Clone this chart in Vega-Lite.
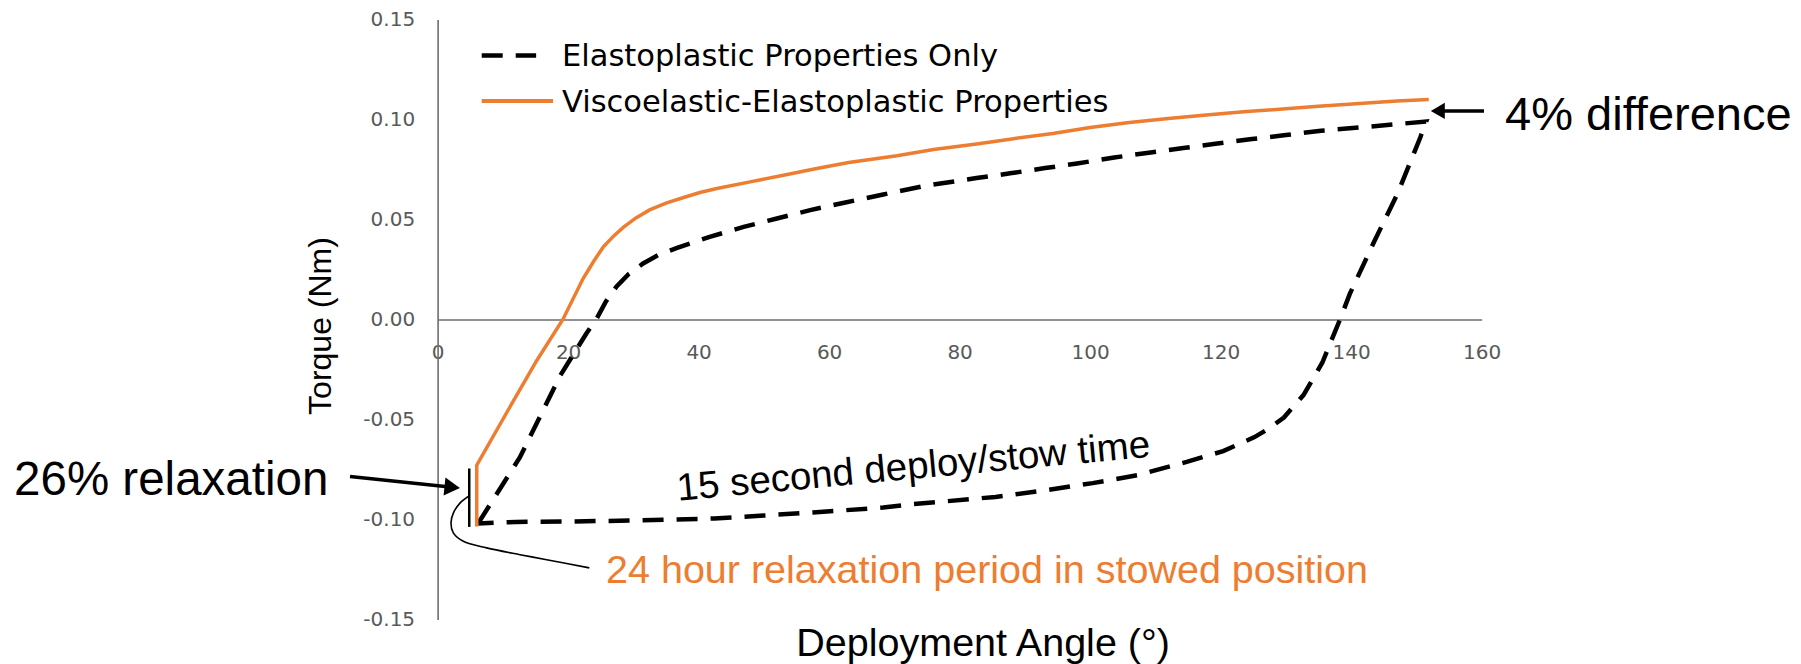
{
  "$schema": "https://vega.github.io/schema/vega-lite/v6.json",
  "width": 1044,
  "height": 600,
  "autosize": {"type": "none"},
  "padding": {"left": 437.6, "top": 19.5, "right": 319.4, "bottom": 44.5},
  "background": "white",
  "config": {"view": {"stroke": null}, "font": "Liberation Sans"},
  "datasets": {
    "curves": [
      {"series": "Elastoplastic Properties Only", "idx": 1, "angle": 6.2, "torque": -0.102},
      {"series": "Elastoplastic Properties Only", "idx": 2, "angle": 12.6, "torque": -0.069},
      {"series": "Elastoplastic Properties Only", "idx": 3, "angle": 18.8, "torque": -0.028},
      {"series": "Elastoplastic Properties Only", "idx": 4, "angle": 22.8, "torque": -0.007},
      {"series": "Elastoplastic Properties Only", "idx": 5, "angle": 24.3, "torque": 0.0},
      {"series": "Elastoplastic Properties Only", "idx": 6, "angle": 25.8, "torque": 0.009},
      {"series": "Elastoplastic Properties Only", "idx": 7, "angle": 27.4, "torque": 0.0164},
      {"series": "Elastoplastic Properties Only", "idx": 8, "angle": 29.3, "torque": 0.0228},
      {"series": "Elastoplastic Properties Only", "idx": 9, "angle": 31.5, "torque": 0.028},
      {"series": "Elastoplastic Properties Only", "idx": 10, "angle": 33.8, "torque": 0.0322},
      {"series": "Elastoplastic Properties Only", "idx": 11, "angle": 36.6, "torque": 0.0357},
      {"series": "Elastoplastic Properties Only", "idx": 12, "angle": 41.7, "torque": 0.0413},
      {"series": "Elastoplastic Properties Only", "idx": 13, "angle": 46.9, "torque": 0.0463},
      {"series": "Elastoplastic Properties Only", "idx": 14, "angle": 52.0, "torque": 0.0505},
      {"series": "Elastoplastic Properties Only", "idx": 15, "angle": 57.1, "torque": 0.0547},
      {"series": "Elastoplastic Properties Only", "idx": 16, "angle": 62.5, "torque": 0.0585},
      {"series": "Elastoplastic Properties Only", "idx": 17, "angle": 68.3, "torque": 0.0625},
      {"series": "Elastoplastic Properties Only", "idx": 18, "angle": 75.0, "torque": 0.067},
      {"series": "Elastoplastic Properties Only", "idx": 19, "angle": 82.6, "torque": 0.0707},
      {"series": "Elastoplastic Properties Only", "idx": 20, "angle": 88.0, "torque": 0.0732},
      {"series": "Elastoplastic Properties Only", "idx": 21, "angle": 93.1, "torque": 0.0757},
      {"series": "Elastoplastic Properties Only", "idx": 22, "angle": 98.0, "torque": 0.078},
      {"series": "Elastoplastic Properties Only", "idx": 23, "angle": 103.7, "torque": 0.081},
      {"series": "Elastoplastic Properties Only", "idx": 24, "angle": 109.0, "torque": 0.0834},
      {"series": "Elastoplastic Properties Only", "idx": 25, "angle": 114.3, "torque": 0.0857},
      {"series": "Elastoplastic Properties Only", "idx": 26, "angle": 119.5, "torque": 0.088},
      {"series": "Elastoplastic Properties Only", "idx": 27, "angle": 124.8, "torque": 0.0902},
      {"series": "Elastoplastic Properties Only", "idx": 28, "angle": 130.0, "torque": 0.0922},
      {"series": "Elastoplastic Properties Only", "idx": 29, "angle": 135.4, "torque": 0.0944},
      {"series": "Elastoplastic Properties Only", "idx": 30, "angle": 141.3, "torque": 0.096},
      {"series": "Elastoplastic Properties Only", "idx": 31, "angle": 147.1, "torque": 0.0977},
      {"series": "Elastoplastic Properties Only", "idx": 32, "angle": 151.5, "torque": 0.099},
      {"series": "Elastoplastic Properties Only", "idx": 33, "angle": 150.6, "torque": 0.091},
      {"series": "Elastoplastic Properties Only", "idx": 34, "angle": 147.1, "torque": 0.0628},
      {"series": "Elastoplastic Properties Only", "idx": 35, "angle": 143.6, "torque": 0.0394},
      {"series": "Elastoplastic Properties Only", "idx": 36, "angle": 139.8, "torque": 0.0128},
      {"series": "Elastoplastic Properties Only", "idx": 37, "angle": 138.3, "torque": 0.0},
      {"series": "Elastoplastic Properties Only", "idx": 38, "angle": 135.6, "torque": -0.0215},
      {"series": "Elastoplastic Properties Only", "idx": 39, "angle": 132.7, "torque": -0.0378},
      {"series": "Elastoplastic Properties Only", "idx": 40, "angle": 129.7, "torque": -0.049},
      {"series": "Elastoplastic Properties Only", "idx": 41, "angle": 127.4, "torque": -0.0545},
      {"series": "Elastoplastic Properties Only", "idx": 42, "angle": 125.2, "torque": -0.0588},
      {"series": "Elastoplastic Properties Only", "idx": 43, "angle": 120.4, "torque": -0.0658},
      {"series": "Elastoplastic Properties Only", "idx": 44, "angle": 114.8, "torque": -0.0712},
      {"series": "Elastoplastic Properties Only", "idx": 45, "angle": 107.2, "torque": -0.0779},
      {"series": "Elastoplastic Properties Only", "idx": 46, "angle": 100.4, "torque": -0.0818},
      {"series": "Elastoplastic Properties Only", "idx": 47, "angle": 93.1, "torque": -0.0854},
      {"series": "Elastoplastic Properties Only", "idx": 48, "angle": 85.5, "torque": -0.0887},
      {"series": "Elastoplastic Properties Only", "idx": 49, "angle": 77.9, "torque": -0.0909},
      {"series": "Elastoplastic Properties Only", "idx": 50, "angle": 72.6, "torque": -0.0924},
      {"series": "Elastoplastic Properties Only", "idx": 51, "angle": 68.3, "torque": -0.094},
      {"series": "Elastoplastic Properties Only", "idx": 52, "angle": 57.5, "torque": -0.0965},
      {"series": "Elastoplastic Properties Only", "idx": 53, "angle": 50.0, "torque": -0.098},
      {"series": "Elastoplastic Properties Only", "idx": 54, "angle": 42.4, "torque": -0.0995},
      {"series": "Elastoplastic Properties Only", "idx": 55, "angle": 30.0, "torque": -0.1005},
      {"series": "Elastoplastic Properties Only", "idx": 56, "angle": 20.0, "torque": -0.101},
      {"series": "Elastoplastic Properties Only", "idx": 57, "angle": 12.0, "torque": -0.1012},
      {"series": "Elastoplastic Properties Only", "idx": 58, "angle": 6.2, "torque": -0.102},
      {"series": "Viscoelastic-Elastoplastic Properties", "idx": 1, "angle": 6.0, "torque": -0.1035},
      {"series": "Viscoelastic-Elastoplastic Properties", "idx": 2, "angle": 6.0, "torque": -0.0728},
      {"series": "Viscoelastic-Elastoplastic Properties", "idx": 3, "angle": 10.6, "torque": -0.0465},
      {"series": "Viscoelastic-Elastoplastic Properties", "idx": 4, "angle": 15.2, "torque": -0.0205},
      {"series": "Viscoelastic-Elastoplastic Properties", "idx": 5, "angle": 19.2, "torque": 0.0},
      {"series": "Viscoelastic-Elastoplastic Properties", "idx": 6, "angle": 22.3, "torque": 0.0205},
      {"series": "Viscoelastic-Elastoplastic Properties", "idx": 7, "angle": 24.0, "torque": 0.0295},
      {"series": "Viscoelastic-Elastoplastic Properties", "idx": 8, "angle": 25.4, "torque": 0.0363},
      {"series": "Viscoelastic-Elastoplastic Properties", "idx": 9, "angle": 27.0, "torque": 0.0418},
      {"series": "Viscoelastic-Elastoplastic Properties", "idx": 10, "angle": 28.5, "torque": 0.0462},
      {"series": "Viscoelastic-Elastoplastic Properties", "idx": 11, "angle": 30.4, "torque": 0.0508},
      {"series": "Viscoelastic-Elastoplastic Properties", "idx": 12, "angle": 32.5, "torque": 0.0548},
      {"series": "Viscoelastic-Elastoplastic Properties", "idx": 13, "angle": 35.0, "torque": 0.0582},
      {"series": "Viscoelastic-Elastoplastic Properties", "idx": 14, "angle": 37.7, "torque": 0.061},
      {"series": "Viscoelastic-Elastoplastic Properties", "idx": 15, "angle": 40.2, "torque": 0.0635},
      {"series": "Viscoelastic-Elastoplastic Properties", "idx": 16, "angle": 42.8, "torque": 0.0655},
      {"series": "Viscoelastic-Elastoplastic Properties", "idx": 17, "angle": 47.9, "torque": 0.0688},
      {"series": "Viscoelastic-Elastoplastic Properties", "idx": 18, "angle": 53.0, "torque": 0.0721},
      {"series": "Viscoelastic-Elastoplastic Properties", "idx": 19, "angle": 58.1, "torque": 0.0755},
      {"series": "Viscoelastic-Elastoplastic Properties", "idx": 20, "angle": 63.0, "torque": 0.0785},
      {"series": "Viscoelastic-Elastoplastic Properties", "idx": 21, "angle": 70.4, "torque": 0.0819},
      {"series": "Viscoelastic-Elastoplastic Properties", "idx": 22, "angle": 76.0, "torque": 0.085},
      {"series": "Viscoelastic-Elastoplastic Properties", "idx": 23, "angle": 82.6, "torque": 0.0877},
      {"series": "Viscoelastic-Elastoplastic Properties", "idx": 24, "angle": 88.0, "torque": 0.0903},
      {"series": "Viscoelastic-Elastoplastic Properties", "idx": 25, "angle": 94.3, "torque": 0.093},
      {"series": "Viscoelastic-Elastoplastic Properties", "idx": 26, "angle": 100.0, "torque": 0.096},
      {"series": "Viscoelastic-Elastoplastic Properties", "idx": 27, "angle": 106.0, "torque": 0.0985},
      {"series": "Viscoelastic-Elastoplastic Properties", "idx": 28, "angle": 112.0, "torque": 0.1005},
      {"series": "Viscoelastic-Elastoplastic Properties", "idx": 29, "angle": 117.8, "torque": 0.1023},
      {"series": "Viscoelastic-Elastoplastic Properties", "idx": 30, "angle": 124.0, "torque": 0.104},
      {"series": "Viscoelastic-Elastoplastic Properties", "idx": 31, "angle": 129.5, "torque": 0.1052},
      {"series": "Viscoelastic-Elastoplastic Properties", "idx": 32, "angle": 135.0, "torque": 0.1066},
      {"series": "Viscoelastic-Elastoplastic Properties", "idx": 33, "angle": 141.3, "torque": 0.108},
      {"series": "Viscoelastic-Elastoplastic Properties", "idx": 34, "angle": 147.0, "torque": 0.1092},
      {"series": "Viscoelastic-Elastoplastic Properties", "idx": 35, "angle": 151.9, "torque": 0.110}
    ],
    "legendLines": [
      {"label": "Elastoplastic Properties Only", "angle": 6.76, "angle2": 15.1, "torque": 0.132},
      {"label": "Viscoelastic-Elastoplastic Properties", "angle": 6.76, "angle2": 17.69, "torque": 0.1092}
    ],
    "legendText": [
      {"label": "Elastoplastic Properties Only", "angle": 19.07, "torque": 0.1266},
      {"label": "Viscoelastic-Elastoplastic Properties", "angle": 19.07, "torque": 0.1036}
    ],
    "relaxBar": [
      {"angle": 4.85, "torque": -0.0745, "torque2": -0.1037}
    ],
    "leader": [
      {"idx": 1, "angle": 4.70, "torque": -0.0885},
      {"idx": 2, "angle": 3.43, "torque": -0.0918},
      {"idx": 3, "angle": 2.41, "torque": -0.0968},
      {"idx": 4, "angle": 2.05, "torque": -0.1017},
      {"idx": 5, "angle": 2.41, "torque": -0.1067},
      {"idx": 6, "angle": 3.94, "torque": -0.1109},
      {"idx": 7, "angle": 7.52, "torque": -0.1142},
      {"idx": 8, "angle": 12.63, "torque": -0.1176},
      {"idx": 9, "angle": 16.72, "torque": -0.1201},
      {"idx": 10, "angle": 23.25, "torque": -0.1242}
    ],
    "arrowRelax": [
      {"angle": -13.43, "torque": -0.0785, "angle2": 2.24, "torque2": -0.0839}
    ],
    "headRelax": [
      {"angle": 2.24, "torque": -0.0839}
    ],
    "arrowDiff": [
      {"angle": 160.37, "torque": 0.1043, "angle2": 153.29, "torque2": 0.1043}
    ],
    "headDiff": [
      {"angle": 153.29, "torque": 0.1043}
    ],
    "noteRelax": [{"label": "26% relaxation", "angle": -16.75, "torque": -0.0876}],
    "noteDiff": [{"label": "4% difference", "angle": 163.6, "torque": 0.0946}],
    "noteTime": [{"label": "15 second deploy/stow time", "angle": 73.09, "torque": -0.0796}],
    "notePeriod": [{"label": "24 hour relaxation period in stowed position", "angle": 84.2, "torque": -0.1316}]
  },
  "encoding": {
    "x": {
      "field": "angle",
      "type": "quantitative",
      "scale": {"domain": [0, 160], "nice": false, "zero": false},
      "axis": {
        "orient": "bottom",
        "offset": -300,
        "values": [0, 20, 40, 60, 80, 100, 120, 140, 160],
        "ticks": false,
        "grid": false,
        "domainColor": "#6e6e6e",
        "domainWidth": 1.6,
        "labelFont": "DejaVu Sans",
        "labelFontSize": 20,
        "labelColor": "#595959",
        "labelPadding": 23,
        "labelFlush": false,
        "labelOverlap": false,
        "labelBound": false,
        "title": "Deployment Angle (°)",
        "titleFont": "Liberation Sans",
        "titleFontSize": 39.5,
        "titleFontWeight": "normal",
        "titleColor": "black",
        "titleX": 545,
        "titleY": 335.5,
        "titleAlign": "center",
        "titleBaseline": "alphabetic"
      }
    },
    "y": {
      "field": "torque",
      "type": "quantitative",
      "scale": {"domain": [-0.15, 0.15], "nice": false, "zero": false},
      "axis": {
        "orient": "left",
        "values": [-0.15, -0.1, -0.05, 0, 0.05, 0.1, 0.15],
        "ticks": false,
        "grid": false,
        "domainColor": "#6e6e6e",
        "domainWidth": 1.6,
        "labelFont": "DejaVu Sans",
        "labelFontSize": 20,
        "labelColor": "#595959",
        "labelPadding": 23,
        "labelFlush": false,
        "labelOverlap": false,
        "labelBound": false,
        "labelExpr": "datum.value < 0 ? '-' + format(-datum.value, '.2f') : format(datum.value, '.2f')",
        "title": "Torque (Nm)",
        "titleFont": "Liberation Sans",
        "titleFontSize": 32,
        "titleFontWeight": "normal",
        "titleColor": "black",
        "titleAngle": -90,
        "titleX": -107,
        "titleY": 306,
        "titleAlign": "center",
        "titleBaseline": "alphabetic"
      }
    }
  },
  "layer": [
    {
      "data": {"name": "curves"},
      "transform": [{"filter": "datum.series === 'Elastoplastic Properties Only'"}],
      "mark": {"type": "line", "color": "black", "strokeWidth": 4.5, "strokeDash": [21, 13]},
      "encoding": {"order": {"field": "idx", "type": "quantitative"}}
    },
    {
      "data": {"name": "curves"},
      "transform": [{"filter": "datum.series === 'Viscoelastic-Elastoplastic Properties'"}],
      "mark": {"type": "line", "color": "#ED7D31", "strokeWidth": 3.5},
      "encoding": {"order": {"field": "idx", "type": "quantitative"}}
    },
    {
      "data": {"name": "legendLines"},
      "transform": [{"filter": "datum.label === 'Elastoplastic Properties Only'"}],
      "mark": {"type": "rule", "color": "black", "strokeWidth": 4.5, "strokeDash": [21, 13]},
      "encoding": {"x2": {"field": "angle2"}}
    },
    {
      "data": {"name": "legendLines"},
      "transform": [{"filter": "datum.label === 'Viscoelastic-Elastoplastic Properties'"}],
      "mark": {"type": "rule", "color": "#ED7D31", "strokeWidth": 4},
      "encoding": {"x2": {"field": "angle2"}}
    },
    {
      "data": {"name": "legendText"},
      "mark": {"type": "text", "font": "DejaVu Sans", "fontSize": 30.5, "color": "black", "align": "left", "baseline": "alphabetic"},
      "encoding": {"text": {"field": "label"}}
    },
    {
      "data": {"name": "relaxBar"},
      "mark": {"type": "rule", "color": "black", "strokeWidth": 2.5},
      "encoding": {"y2": {"field": "torque2"}}
    },
    {
      "data": {"name": "leader"},
      "mark": {"type": "line", "color": "black", "strokeWidth": 1.6, "interpolate": "catmull-rom"},
      "encoding": {"order": {"field": "idx", "type": "quantitative"}}
    },
    {
      "data": {"name": "arrowRelax"},
      "mark": {"type": "rule", "color": "black", "strokeWidth": 3.5},
      "encoding": {"x2": {"field": "angle2"}, "y2": {"field": "torque2"}}
    },
    {
      "data": {"name": "headRelax"},
      "mark": {"type": "point", "shape": "triangle-right", "filled": true, "color": "black", "opacity": 1, "size": 320, "angle": 6, "strokeWidth": 0}
    },
    {
      "data": {"name": "arrowDiff"},
      "mark": {"type": "rule", "color": "black", "strokeWidth": 3.5},
      "encoding": {"x2": {"field": "angle2"}, "y2": {"field": "torque2"}}
    },
    {
      "data": {"name": "headDiff"},
      "mark": {"type": "point", "shape": "triangle-left", "filled": true, "color": "black", "opacity": 1, "size": 260, "strokeWidth": 0}
    },
    {
      "data": {"name": "noteRelax"},
      "mark": {"type": "text", "font": "Liberation Sans", "fontSize": 47.5, "color": "black", "align": "right", "baseline": "alphabetic"},
      "encoding": {"text": {"field": "label"}}
    },
    {
      "data": {"name": "noteDiff"},
      "mark": {"type": "text", "font": "Liberation Sans", "fontSize": 47, "color": "black", "align": "left", "baseline": "alphabetic"},
      "encoding": {"text": {"field": "label"}}
    },
    {
      "data": {"name": "noteTime"},
      "mark": {"type": "text", "font": "Liberation Sans", "fontSize": 38.5, "color": "black", "align": "center", "baseline": "alphabetic", "angle": -5.3},
      "encoding": {"text": {"field": "label"}}
    },
    {
      "data": {"name": "notePeriod"},
      "mark": {"type": "text", "font": "Liberation Sans", "fontSize": 39.5, "color": "#ED7D31", "align": "center", "baseline": "alphabetic"},
      "encoding": {"text": {"field": "label"}}
    }
  ]
}
